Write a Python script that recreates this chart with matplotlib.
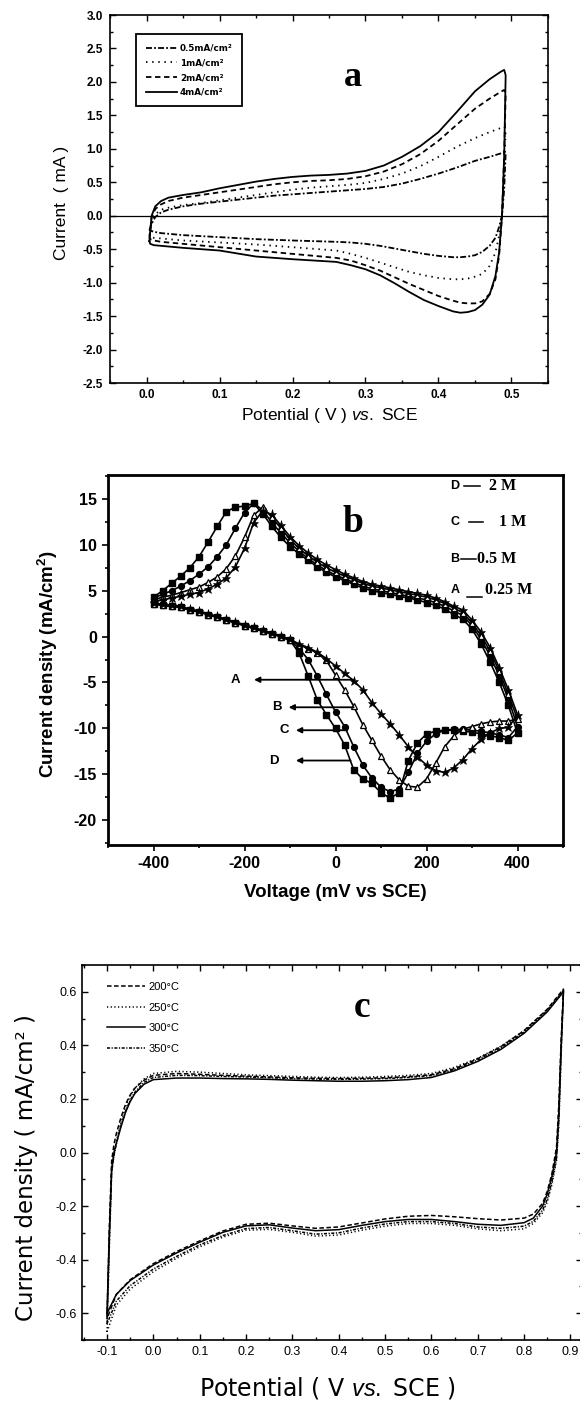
import numpy as np
import matplotlib
matplotlib.use("Agg")
import matplotlib.pyplot as plt
from matplotlib.ticker import MultipleLocator

plt.rcParams['font.family'] = ['Liberation Sans', 'DejaVu Sans']
plt.rcParams['mathtext.fontset'] = 'custom'
plt.rcParams['mathtext.rm'] = 'Liberation Sans'
plt.rcParams['mathtext.it'] = 'Liberation Sans:italic'
plt.rcParams['mathtext.bf'] = 'Liberation Sans:bold'

# ---------------- panel a: CV at different current densities ----------------
a_labels = ["0.5mA/cm²", "1mA/cm²", "2mA/cm²", "4mA/cm²"]
a_fwd_v = [0.004, 0.007, 0.012, 0.02, 0.03, 0.05, 0.075, 0.1, 0.125, 0.15, 0.175, 0.2,
           0.225, 0.25, 0.275, 0.3, 0.325, 0.35, 0.375, 0.4, 0.425, 0.45, 0.47, 0.485, 0.49]
a_rev_v = [0.492, 0.49, 0.487, 0.483, 0.478, 0.47, 0.46, 0.45, 0.44, 0.43, 0.42, 0.4, 0.38,
           0.36, 0.34, 0.32, 0.3, 0.28, 0.26, 0.2, 0.15, 0.1, 0.05, 0.02, 0.01, 0.005]
a_fwd_05 = [-0.22, -0.12, -0.02, 0.05, 0.09, 0.14, 0.18, 0.21, 0.24, 0.27, 0.3, 0.32, 0.34,
            0.36, 0.38, 0.4, 0.43, 0.48, 0.55, 0.63, 0.72, 0.82, 0.88, 0.93, 0.95]
a_rev_05 = [0.93, 0.4, 0.0, -0.17, -0.33, -0.45, -0.54, -0.59, -0.61, -0.62, -0.62, -0.6, -0.57,
            -0.53, -0.49, -0.45, -0.42, -0.40, -0.39, -0.37, -0.35, -0.32, -0.29, -0.26, -0.24, -0.22]
a_fwd_1 = [-0.3, -0.1, 0.02, 0.09, 0.12, 0.16, 0.19, 0.23, 0.27, 0.31, 0.35, 0.39, 0.42,
           0.44, 0.46, 0.49, 0.55, 0.63, 0.74, 0.88, 1.03, 1.16, 1.25, 1.31, 1.33]
a_rev_1 = [1.3, 0.6, 0.0, -0.3, -0.55, -0.75, -0.87, -0.91, -0.94, -0.95, -0.95, -0.93, -0.89,
           -0.84, -0.77, -0.70, -0.63, -0.57, -0.52, -0.47, -0.43, -0.40, -0.37, -0.34, -0.33, -0.31]
a_fwd_2 = [-0.33, -0.03, 0.1, 0.17, 0.22, 0.27, 0.31, 0.35, 0.39, 0.43, 0.47, 0.5, 0.52,
           0.53, 0.55, 0.59, 0.66, 0.77, 0.92, 1.12, 1.36, 1.6, 1.75, 1.85, 1.88]
a_rev_2 = [1.82, 0.9, 0.0, -0.6, -0.95, -1.17, -1.28, -1.31, -1.31, -1.3, -1.27, -1.2, -1.11,
           -1.02, -0.92, -0.82, -0.74, -0.67, -0.63, -0.57, -0.52, -0.47, -0.42, -0.39, -0.37, -0.35]
a_fwd_4 = [-0.38, 0.0, 0.14, 0.22, 0.27, 0.31, 0.35, 0.41, 0.46, 0.51, 0.55, 0.58, 0.6,
           0.61, 0.63, 0.67, 0.75, 0.88, 1.04, 1.25, 1.55, 1.86, 2.04, 2.15, 2.18]
a_rev_4 = [2.1, 0.9, 0.0, -0.55, -0.9, -1.18, -1.33, -1.41, -1.44, -1.45, -1.43, -1.35, -1.26,
           -1.14, -1.01, -0.89, -0.80, -0.74, -0.69, -0.65, -0.61, -0.52, -0.48, -0.45, -0.44, -0.42]

# ---------------- panel b: CV at different electrolyte concentrations ----------------
b_up_mv = [-400, -380, -360, -340, -320, -300, -280, -260, -240, -220, -200, -180, -160, -140,
           -120, -100, -80, -60, -40, -20, 0, 20, 40, 60, 80, 100, 120, 140, 160, 180, 200,
           220, 240, 260, 280, 300, 320, 340, 360, 380, 400]
b_down_mv = [380, 360, 340, 320, 300, 280, 260, 240, 220, 200, 180, 160, 140, 120, 100, 80, 60,
             40, 20, 0, -20, -40, -60, -80, -100, -120, -140, -160, -180, -200, -220, -240,
             -260, -280, -300, -320, -340, -360, -380, -400]
b_up_D = [4.3, 5.0, 5.8, 6.6, 7.5, 8.7, 10.3, 12.0, 13.6, 14.1, 14.2, 14.5, 13.4, 12.0, 10.8,
          9.8, 9.0, 8.3, 7.6, 7.0, 6.5, 6.1, 5.7, 5.3, 5.0, 4.8, 4.6, 4.4, 4.2, 4.0, 3.7, 3.4,
          3.0, 2.4, 1.9, 0.8, -0.8, -2.8, -5.0, -7.5, -10.5]
b_up_C = [4.2, 4.6, 5.0, 5.5, 6.1, 6.8, 7.6, 8.7, 10.0, 11.8, 13.5, 14.5, 13.8, 12.4, 11.3,
          10.2, 9.3, 8.5, 7.8, 7.2, 6.7, 6.3, 5.9, 5.5, 5.2, 5.0, 4.8, 4.6, 4.4, 4.2, 4.0, 3.7,
          3.3, 2.8, 2.3, 1.2, -0.3, -2.1, -4.3, -6.8, -9.8]
b_up_B = [4.0, 4.3, 4.5, 4.8, 5.1, 5.4, 5.9, 6.5, 7.4, 8.8, 10.8, 13.2, 14.1, 13.0, 11.8,
          10.6, 9.6, 8.8, 8.1, 7.5, 7.0, 6.6, 6.2, 5.8, 5.5, 5.3, 5.1, 4.9, 4.7, 4.5, 4.3, 4.0,
          3.6, 3.1, 2.6, 1.5, 0.1, -1.6, -3.8, -6.3, -9.0]
b_up_A = [3.8, 4.0, 4.2, 4.4, 4.6, 4.8, 5.2, 5.7, 6.4, 7.6, 9.6, 12.4, 13.7, 13.3, 12.1,
          10.9, 9.9, 9.1, 8.4, 7.8, 7.3, 6.8, 6.4, 6.0, 5.7, 5.5, 5.3, 5.1, 4.9, 4.7, 4.5, 4.2,
          3.8, 3.3, 2.9, 1.8, 0.5, -1.2, -3.4, -5.8, -8.5]
b_down_D = [-11.3, -11.0, -10.8, -10.6, -10.4, -10.3, -10.2, -10.2, -10.3, -10.6, -11.6, -13.5,
            -17.0, -17.6, -17.0, -16.0, -15.5, -14.5, -11.8, -10.0, -8.5, -6.9, -4.3, -1.8,
            -0.4, 0.0, 0.3, 0.6, 0.9, 1.2, 1.5, 1.8, 2.1, 2.4, 2.7, 2.9, 3.2, 3.3, 3.4, 3.6]
b_down_C = [-11.0, -10.7, -10.5, -10.3, -10.2, -10.1, -10.1, -10.2, -10.6, -11.4, -12.7, -14.8,
            -16.6, -16.9, -16.4, -15.4, -14.0, -12.0, -9.8, -8.2, -6.3, -4.3, -2.5, -1.3,
            -0.4, 0.0, 0.3, 0.6, 0.9, 1.2, 1.5, 1.8, 2.1, 2.4, 2.7, 2.9, 3.2, 3.3, 3.4, 3.6]
b_down_B = [-9.2, -9.2, -9.3, -9.5, -9.8, -10.1, -10.8, -12.0, -13.8, -15.5, -16.4, -16.3,
            -15.6, -14.5, -13.0, -11.3, -9.6, -7.6, -5.8, -4.2, -2.6, -1.8, -1.3, -0.9,
            -0.4, 0.0, 0.3, 0.6, 0.9, 1.2, 1.5, 1.8, 2.1, 2.4, 2.7, 2.9, 3.2, 3.3, 3.4, 3.6]
b_down_A = [-9.9, -10.0, -10.5, -11.2, -12.2, -13.4, -14.3, -14.8, -14.6, -14.0, -13.1, -12.0,
            -10.7, -9.5, -8.4, -7.2, -5.8, -4.8, -4.0, -3.2, -2.4, -1.7, -1.2, -0.8,
            -0.3, 0.1, 0.4, 0.7, 1.0, 1.3, 1.6, 1.9, 2.2, 2.5, 2.8, 3.0, 3.3, 3.4, 3.5, 3.7]
b_keys = ["D", "C", "B", "A"]
b_conc = ["2 M", "1 M", "0.5 M", "0.25 M"]

# ---------------- panel c: CV at different annealing temperatures ----------------
c_labels = ["200°C", "250°C", "300°C", "350°C"]
c_fwd_v = [-0.10, -0.095, -0.09, -0.085, -0.08, -0.07, -0.06, -0.05, -0.04, -0.02, 0.0, 0.05,
           0.1, 0.15, 0.2, 0.25, 0.3, 0.35, 0.4, 0.45, 0.5, 0.55, 0.6, 0.65, 0.7, 0.75, 0.8,
           0.85, 0.885]
c_rev_v = [0.885, 0.88, 0.875, 0.87, 0.86, 0.85, 0.84, 0.82, 0.8, 0.75, 0.7, 0.65, 0.6, 0.55,
           0.5, 0.45, 0.4, 0.35, 0.3, 0.25, 0.2, 0.15, 0.1, 0.05, 0.0, -0.05, -0.08, -0.1]
c_fwd_200 = [-0.62, -0.28, -0.03, 0.03, 0.07, 0.13, 0.18, 0.215, 0.24, 0.27, 0.288, 0.295,
             0.292, 0.288, 0.285, 0.282, 0.279, 0.277, 0.276, 0.277, 0.279, 0.283, 0.29,
             0.313, 0.35, 0.395, 0.455, 0.535, 0.61]
c_rev_200 = [0.61, 0.42, 0.18, 0.02, -0.08, -0.145, -0.19, -0.23, -0.245, -0.252, -0.247, -0.24,
             -0.235, -0.238, -0.248, -0.263, -0.278, -0.283, -0.274, -0.264, -0.268, -0.293,
             -0.33, -0.37, -0.415, -0.475, -0.53, -0.62]
c_fwd_250 = [-0.67, -0.36, -0.08, -0.01, 0.04, 0.11, 0.17, 0.21, 0.24, 0.275, 0.295, 0.303,
             0.3, 0.295, 0.29, 0.287, 0.284, 0.281, 0.28, 0.281, 0.284, 0.288, 0.295, 0.318,
             0.352, 0.397, 0.455, 0.532, 0.60]
c_rev_250 = [0.60, 0.36, 0.10, -0.03, -0.12, -0.185, -0.225, -0.265, -0.285, -0.292, -0.285,
             -0.272, -0.265, -0.265, -0.275, -0.29, -0.308, -0.312, -0.298, -0.287, -0.29,
             -0.316, -0.352, -0.395, -0.445, -0.51, -0.57, -0.67]
c_fwd_300 = [-0.60, -0.30, -0.06, 0.0, 0.035, 0.095, 0.15, 0.19, 0.22, 0.255, 0.272, 0.278,
             0.278, 0.276, 0.275, 0.273, 0.27, 0.268, 0.266, 0.266, 0.268, 0.272, 0.28, 0.305,
             0.34, 0.385, 0.445, 0.525, 0.60]
c_rev_300 = [0.60, 0.40, 0.15, 0.0, -0.09, -0.155, -0.20, -0.245, -0.262, -0.272, -0.268,
             -0.258, -0.25, -0.25, -0.258, -0.272, -0.288, -0.292, -0.282, -0.27, -0.274,
             -0.298, -0.335, -0.375, -0.42, -0.478, -0.53, -0.60]
c_fwd_350 = [-0.64, -0.33, -0.07, -0.01, 0.03, 0.1, 0.155, 0.195, 0.225, 0.262, 0.28, 0.288,
             0.287, 0.284, 0.282, 0.279, 0.276, 0.274, 0.273, 0.274, 0.276, 0.28, 0.287, 0.31,
             0.345, 0.39, 0.45, 0.53, 0.605]
c_rev_350 = [0.605, 0.38, 0.12, -0.02, -0.11, -0.175, -0.215, -0.257, -0.275, -0.283, -0.278,
             -0.265, -0.258, -0.258, -0.267, -0.282, -0.3, -0.305, -0.292, -0.28, -0.284,
             -0.31, -0.345, -0.388, -0.435, -0.497, -0.555, -0.64]

# ---------------- figure ----------------
W, H = 580, 1403
fig = plt.figure(figsize=(W / 100, H / 100), dpi=100)
fig.patch.set_facecolor("white")


def box(left, top, right, bottom):
    return [left / W, 1 - bottom / H, (right - left) / W, (bottom - top) / H]


def loop(fwd_v, fwd_i, rev_v, rev_i):
    v = np.concatenate([fwd_v, rev_v, fwd_v[:1]])
    i = np.concatenate([fwd_i, rev_i, fwd_i[:1]])
    return v, i


# ===== panel a =====
ax = fig.add_axes(box(110, 15, 548, 383))
a_styles = [(0, (3.3, 1.2, 1.0, 1.2)), (0, (0.8, 2.6)), (0, (3.0, 2.0)), "-"]
a_curves = [(a_fwd_05, a_rev_05), (a_fwd_1, a_rev_1), (a_fwd_2, a_rev_2), (a_fwd_4, a_rev_4)]
for lab, (f, r), ls in zip(a_labels, a_curves, a_styles):
    v, i = loop(a_fwd_v, f, a_rev_v, r)
    ax.plot(v, i, color="black", lw=1.3, ls=ls, label=lab)
ax.axhline(0, color="black", lw=0.9)
ax.set_xlim(-0.05, 0.55)
ax.set_ylim(-2.5, 3.0)
xt = [0.0, 0.1, 0.2, 0.3, 0.4, 0.5]
yt = [-2.5, -2.0, -1.5, -1.0, -0.5, 0.0, 0.5, 1.0, 1.5, 2.0, 2.5, 3.0]
ax.set_xticks(xt, [f"{t:.1f}" for t in xt], fontsize=8.5, fontweight="bold")
ax.set_yticks(yt, [f"{t:.1f}" for t in yt], fontsize=8.5, fontweight="bold")
ax.xaxis.set_minor_locator(MultipleLocator(0.05))
ax.yaxis.set_minor_locator(MultipleLocator(0.25))
ax.tick_params(which="both", direction="in", top=True, right=True, width=1.0)
ax.tick_params(which="major", length=4)
ax.tick_params(axis="x", which="major", pad=4)
ax.tick_params(axis="y", which="major", pad=5)
ax.tick_params(which="minor", length=2)
for s in ax.spines.values():
    s.set_linewidth(1.2)
ax.set_xlabel(r"Potential ( V ) $\it{vs.}$ SCE", fontsize=12.5)
ax.set_ylabel("Current  ( mA )", fontsize=12.5)
ax.xaxis.set_label_coords(0.502, -0.088)
ax.xaxis.label.set_va("center")
ax.yaxis.set_label_coords(-0.110, 0.49)
ax.yaxis.label.set_va("center")
leg = ax.legend(loc="upper left", bbox_to_anchor=(0.05, 0.96),
                prop={"family": "DejaVu Sans", "weight": "bold", "size": 6.3},
                handlelength=3.6, labelspacing=0.65, borderpad=1.1, handletextpad=0.3,
                fancybox=False, edgecolor="black", framealpha=1)
leg.get_frame().set_linewidth(1.3)
ax.text(0.283, 2.07, "a", family="Liberation Serif", fontweight="bold", fontsize=26,
        ha="center", va="center")

# ===== panel b =====
ax = fig.add_axes(box(108, 475, 563, 845))
b_up = [b_up_D, b_up_C, b_up_B, b_up_A]
b_down = [b_down_D, b_down_C, b_down_B, b_down_A]
b_marks = [dict(marker="s", ms=4.0, mfc="black", mec="black"),
           dict(marker="o", ms=4.2, mfc="black", mec="black"),
           dict(marker="^", ms=5.0, mfc="white", mec="black", mew=0.9),
           dict(marker="*", ms=6.5, mfc="black", mec="black", mew=0.4)]
for z, (up, down, mk) in enumerate(zip(b_up, b_down, b_marks)):
    v = np.concatenate([b_up_mv, b_down_mv])
    j = np.concatenate([up, down])
    ax.plot(v, j, color="black", lw=1.2, zorder=3 + z, **mk)
ax.set_xlim(-500, 500)
ax.set_ylim(-22.7, 17.6)
xt = [-400, -200, 0, 200, 400]
yt = [-20, -15, -10, -5, 0, 5, 10, 15]
ax.set_xticks(xt, [str(t) for t in xt], fontsize=11.5, fontweight="bold")
ax.set_yticks(yt, [str(t) for t in yt], fontsize=11.5, fontweight="bold")
ax.xaxis.set_minor_locator(MultipleLocator(100))
ax.yaxis.set_minor_locator(MultipleLocator(2.5))
ax.tick_params(which="both", direction="out", width=1.2)
ax.tick_params(which="major", length=4, pad=4)
ax.tick_params(which="minor", length=2)
for s in ax.spines.values():
    s.set_linewidth(2.0)
ax.set_xlabel("Voltage (mV vs SCE)", fontsize=13.5, fontweight="bold")
ax.set_ylabel("Current density (mA/cm$^\\mathbf{2}$)", fontsize=13.5, fontweight="bold")
ax.xaxis.set_label_coords(0.499, -0.128)
ax.xaxis.label.set_va("center")
ax.yaxis.set_label_coords(-0.132, 0.49)
ax.yaxis.label.set_va("center")
ax.text(39, 12.4, "b", family="Liberation Serif", fontweight="bold", fontsize=27,
        ha="center", va="center")
# concentration key (top right)
key_y = [16.4, 12.5, 8.5, 5.1]
key_dash_x = [(282, 318), (293, 325), (276, 308), (290, 322)]
key_val_x = [338, 360, 312, 328]
for k, c, y, (d0, d1), vx in zip(b_keys, b_conc, key_y, key_dash_x, key_val_x):
    ax.text(262, y, k, fontsize=9, fontweight="bold", ha="center", va="center")
    ax.plot([d0, d1], [y - (0.8 if k == "A" else 0.0)] * 2, color="black", lw=1.1)
    ax.text(vx, y, c, family="Liberation Serif", fontsize=11.5, fontweight="bold",
            ha="left", va="center")
# arrows pointing to the cathodic peaks
arrow_y = [-4.7, -7.7, -10.2, -13.5]
arrow_head = [-179, -103, -87, -87]
arrow_tail = [40, 40, 26, 33]
arrow_lbl_x = [-219, -129, -113, -136]
for k, y, h, t, lx in zip(["A", "B", "C", "D"], arrow_y, arrow_head, arrow_tail, arrow_lbl_x):
    ax.annotate("", xy=(h, y), xytext=(t, y),
                arrowprops=dict(arrowstyle="-|>", color="black", lw=1.3,
                                mutation_scale=8, shrinkA=0, shrinkB=0), zorder=10)
    ax.text(lx, y, k, fontsize=9.5, fontweight="bold", ha="center", va="center")

# ===== panel c =====
ax = fig.add_axes(box(82, 965, 582, 1340))
c_styles = [(0, (3.0, 1.6)), (0, (0.8, 1.6)), "-", (0, (2.0, 1.0, 0.8, 1.0))]
c_curves = [(c_fwd_200, c_rev_200), (c_fwd_250, c_rev_250), (c_fwd_300, c_rev_300),
            (c_fwd_350, c_rev_350)]
for lab, (f, r), ls in zip(c_labels, c_curves, c_styles):
    v, i = loop(c_fwd_v, f, c_rev_v, r)
    ax.plot(v, i, color="black", lw=1.1, ls=ls, label=lab)
ax.set_xlim(-0.154, 0.925)
ax.set_ylim(-0.70, 0.70)
xt = [-0.1, 0.0, 0.1, 0.2, 0.3, 0.4, 0.5, 0.6, 0.7, 0.8, 0.9]
yt = [-0.6, -0.4, -0.2, 0.0, 0.2, 0.4, 0.6]
ax.set_xticks(xt, [f"{t:.1f}" for t in xt], fontsize=9)
ax.set_yticks(yt, [f"{t:.1f}" for t in yt], fontsize=9)
ax.xaxis.set_minor_locator(MultipleLocator(0.05))
ax.yaxis.set_minor_locator(MultipleLocator(0.1))
ax.tick_params(which="both", direction="in", top=True, right=True, width=1.0)
ax.tick_params(which="major", length=4, pad=4)
ax.tick_params(which="minor", length=2)
for s in ax.spines.values():
    s.set_linewidth(1.2)
ax.set_xlabel(r"Potential ( V $\it{vs.}$ SCE )", fontsize=17, family="DejaVu Sans")
ax.set_ylabel("Current density ( mA/cm² )", fontsize=16.5, family="DejaVu Sans")
ax.xaxis.set_label_coords(0.491, -0.127)
ax.xaxis.label.set_va("center")
ax.yaxis.set_label_coords(-0.112, 0.46)
ax.yaxis.label.set_va("center")
ax.legend(loc="upper left", bbox_to_anchor=(0.035, 0.975), frameon=False, fontsize=8,
          handlelength=3.4, labelspacing=0.95, handletextpad=0.3, borderpad=0.2)
ax.text(0.451, 0.54, "c", family="Liberation Serif", fontweight="bold", fontsize=27,
        ha="center", va="center")

fig.savefig("out.png", dpi=100, facecolor="white")
